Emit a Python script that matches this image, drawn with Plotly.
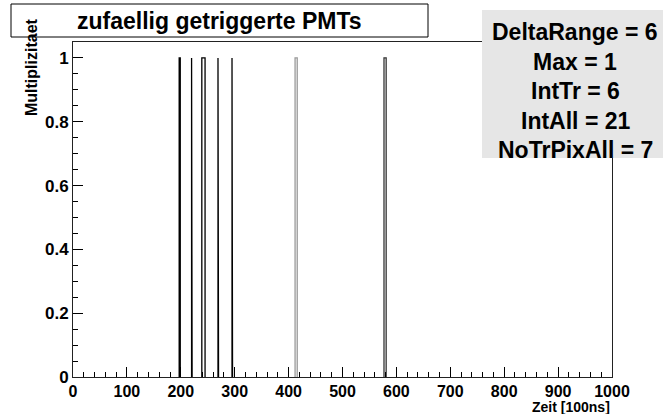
import numpy as np
import plotly.graph_objects as go

# Histogram of randomly triggered PMTs: occupied time bins (start, width) and multiplicity
spike_start = [197, 220, 239, 269, 295, 412, 577]
spike_width = [2, 1, 6, 1, 1, 4, 4]
spike_value = [1, 1, 1, 1, 1, 1, 1]
spike_color = ["#000000", "#000000", "#000000", "#000000", "#000000", "#999999", "#333333"]

x_ticks = list(range(0, 1001, 100))
y_ticks = [0, 0.2, 0.4, 0.6, 0.8, 1.0]
y_ticklabels = ["0", "0.2", "0.4", "0.6", "0.8", "1"]

stats_lines = ["DeltaRange = 6", "Max = 1", "IntTr = 6", "IntAll = 21", "NoTrPixAll = 7"]
title_text = "zufaellig getriggerte PMTs"

FONT = "Liberation Sans, Arial, Helvetica, sans-serif"

# plot-area geometry in pixels
W, H = 663, 414
L, R, T, B = 73, 612, 42, 377


def px_x(px):
    return (px - L) / (R - L)


def px_y(py):
    return (B - py) / (B - T)


fig = go.Figure()
for s, w, v, c in zip(spike_start, spike_width, spike_value, spike_color):
    fig.add_trace(go.Scatter(
        x=[s, s, s + w, s + w], y=[0, v, v, 0],
        mode="lines", line=dict(color=c, width=1.3),
        hoverinfo="skip", showlegend=False,
    ))

fig.update_layout(
    width=W, height=H,
    margin=dict(l=L, r=W - R, t=T, b=H - B, pad=0),
    paper_bgcolor="white", plot_bgcolor="white",
    showlegend=False,
    font=dict(family=FONT, color="black"),
)

fig.update_xaxes(
    range=[0, 1000], tickvals=x_ticks,
    ticks="inside", ticklen=10, tickwidth=1, tickcolor="black",
    minor=dict(ticks="inside", ticklen=5, dtick=20, tickwidth=1, tickcolor="black"),
    showline=True, linecolor="#222222", linewidth=1, mirror=True,
    showgrid=False, zeroline=False,
    tickfont=dict(family=FONT, size=16, weight="bold"),
)
fig.update_yaxes(
    range=[0, 1.05], tickvals=y_ticks, ticktext=y_ticklabels,
    ticks="inside", ticklen=10, tickwidth=1, tickcolor="black",
    minor=dict(ticks="inside", ticklen=5, dtick=0.05, tickwidth=1, tickcolor="black"),
    showline=True, linecolor="#222222", linewidth=1, mirror=True,
    showgrid=False, zeroline=False,
    tickfont=dict(family=FONT, size=17, weight="bold"),
)

# title box
fig.add_shape(type="rect", xref="paper", yref="paper",
              x0=px_x(11), x1=px_x(428), y0=px_y(37), y1=px_y(4),
              fillcolor="white", line=dict(color="black", width=1), layer="above")
fig.add_annotation(xref="paper", yref="paper", x=px_x(219.5), y=px_y(20.5),
                   text=title_text, showarrow=False, xanchor="center", yanchor="middle",
                   font=dict(family=FONT, size=23, weight="bold"))

# statistics box
fig.add_shape(type="rect", xref="paper", yref="paper",
              x0=px_x(482), x1=px_x(663), y0=px_y(158), y1=px_y(10),
              fillcolor="#e6e6e6", line=dict(width=0), layer="above")
for i, line in enumerate(stats_lines):
    fig.add_annotation(xref="paper", yref="paper", x=px_x(575), y=px_y(32 + 29.5 * i),
                       text=line, showarrow=False, xanchor="center", yanchor="middle",
                       font=dict(family=FONT, size=23, weight="bold"))

# axis titles
fig.add_annotation(xref="paper", yref="paper", x=1.0, y=px_y(406.5),
                   text="Zeit [100ns]", showarrow=False, xanchor="right", yanchor="middle",
                   font=dict(family=FONT, size=14, weight="bold"))
fig.add_annotation(xref="paper", yref="paper", x=px_x(31), y=px_y(16),
                   text="Multiplizitaet", showarrow=False, textangle=-90,
                   xanchor="center", yanchor="top",
                   font=dict(family=FONT, size=16, weight="bold"))

fig.write_html("out.html")
